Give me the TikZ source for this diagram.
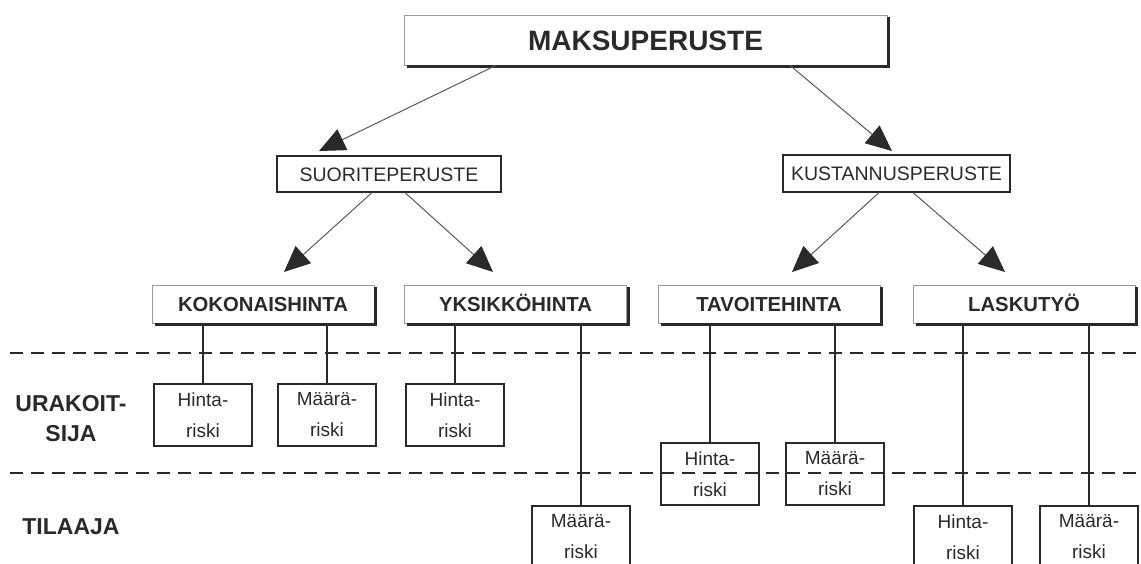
\documentclass[tikz,border=0pt]{standalone}
\usepackage{fontspec}
\setmainfont{Liberation Sans}
\usetikzlibrary{arrows.meta,calc}
\definecolor{ink}{HTML}{2A2A2A}
\definecolor{lgray}{HTML}{9A9A9A}
\definecolor{arrgray}{HTML}{5A5A5A}
\begin{document}
\begin{tikzpicture}[x=1pt,y=-1pt,
  topbox/.style={draw=lgray, line width=0.8pt, minimum width=483pt, minimum height=50pt, inner sep=0pt, text height=20pt, text depth=0pt, text=ink, font=\fontsize{28}{30}\selectfont\bfseries},
  midbox/.style={draw=ink, line width=1.2pt, minimum height=36pt, inner sep=0pt, text height=14pt, text depth=0pt, text=ink, font=\fontsize{19.5}{22}\selectfont},
  lvlbox/.style={draw=lgray, line width=0.8pt, minimum width=222pt, minimum height=38pt, inner sep=0pt, text height=14.5pt, text depth=0pt, text=ink, font=\fontsize{20.3}{22}\selectfont\bfseries},
  riskbox/.style={draw=ink, line width=1.3pt, minimum width=98pt, minimum height=62pt, inner sep=0pt, align=center, text=ink, font=\fontsize{19}{31}\selectfont},
  lab/.style={align=center, inner sep=0pt, text=ink, font=\fontsize{23}{30}\selectfont\bfseries},
  shadowline/.style={draw=ink, line width=3pt},
  conn/.style={draw=ink, line width=1.3pt},
  dashline/.style={draw=ink, line width=1.5pt, dash pattern=on 13pt off 8pt},
  arr/.style={draw=arrgray, line width=1pt, -{Triangle[length=26pt,width=23pt,color=ink]}}
]
\useasboundingbox (0,0) rectangle (1141,563);
\fill[white] (0,0) rectangle (1141,563);
\clip (0,0) rectangle (1141,563);

% top
\node[topbox] (mak) at (645.5,40) {MAKSUPERUSTE};
\draw[shadowline] ($(mak.south west)+(3,1.5)$) -- ($(mak.south east)+(1.5,1.5)$) -- ($(mak.north east)+(1.5,2)$);

% second level
\node[midbox, minimum width=224pt] (suo) at (389,174) {SUORITEPERUSTE};
\node[midbox, minimum width=227pt, minimum height=37pt] (kus) at (896.5,173.5) {KUSTANNUSPERUSTE};

% third level
\node[lvlbox] (kok) at (263,304) {KOKONAISHINTA};
\node[lvlbox] (yks) at (515.5,304) {YKSIKKÖHINTA};
\node[lvlbox] (tav) at (769,304) {TAVOITEHINTA};
\node[lvlbox] (las) at (1024,304) {LASKUTYÖ};
\foreach \n in {kok,yks,tav,las}{
  \draw[shadowline] ($(\n.south west)+(3,1.5)$) -- ($(\n.south east)+(1.5,1.5)$) -- ($(\n.north east)+(1.5,2)$);
}

% arrows
\coordinate (t1) at (319,151);
\coordinate (t2) at (892,151);
\coordinate (t3) at (284,272);
\coordinate (t4) at (493,272);
\coordinate (t5) at (792,272);
\coordinate (t6) at (1005,272);
\draw[arr] (mak.south -| 496,0) -- (t1);
\draw[arr] (mak.south -| 790,0) -- (t2);
\draw[arr] (suo.south -| 372,0) -- (t3);
\draw[arr] (suo.south -| 405,0) -- (t4);
\draw[arr] (kus.south -| 879,0) -- (t5);
\draw[arr] (kus.south -| 913,0) -- (t6);

% dashed separators
\coordinate (d1l) at (10,353);
\coordinate (d1r) at (1141,353);
\coordinate (d2l) at (10,473);
\coordinate (d2r) at (1141,473);
\draw[dashline] (d1l) -- (d1r);
\draw[dashline] (d2l) -- (d2r);

% row labels
\node[lab] (urak) at (71,419) {URAKOIT-\\SIJA};
\node[lab] (tila) at (71,527) {TILAAJA};

% risk boxes
\node[riskbox] (r1) at (203,415) {Hinta-\\riski};
\node[riskbox] (r2) at (327,415) {Määrä-\\riski};
\node[riskbox] (r3) at (455,415) {Hinta-\\riski};
\node[riskbox] (r4) at (581,537) {Määrä-\\riski};
\node[riskbox] (r5) at (710,474) {Hinta-\\riski};
\node[riskbox] (r6) at (835,474) {Määrä-\\riski};
\node[riskbox] (r7) at (963,537) {Hinta-\\riski};
\node[riskbox] (r8) at (1089,537) {Määrä-\\riski};

% vertical connectors
\draw[conn] (kok.south -| r1.north) -- (r1.north);
\draw[conn] (kok.south -| r2.north) -- (r2.north);
\draw[conn] (yks.south -| r3.north) -- (r3.north);
\draw[conn] (yks.south -| r4.north) -- (r4.north);
\draw[conn] (tav.south -| r5.north) -- (r5.north);
\draw[conn] (tav.south -| r6.north) -- (r6.north);
\draw[conn] (las.south -| r7.north) -- (r7.north);
\draw[conn] (las.south -| r8.north) -- (r8.north);
\end{tikzpicture}
\end{document}
